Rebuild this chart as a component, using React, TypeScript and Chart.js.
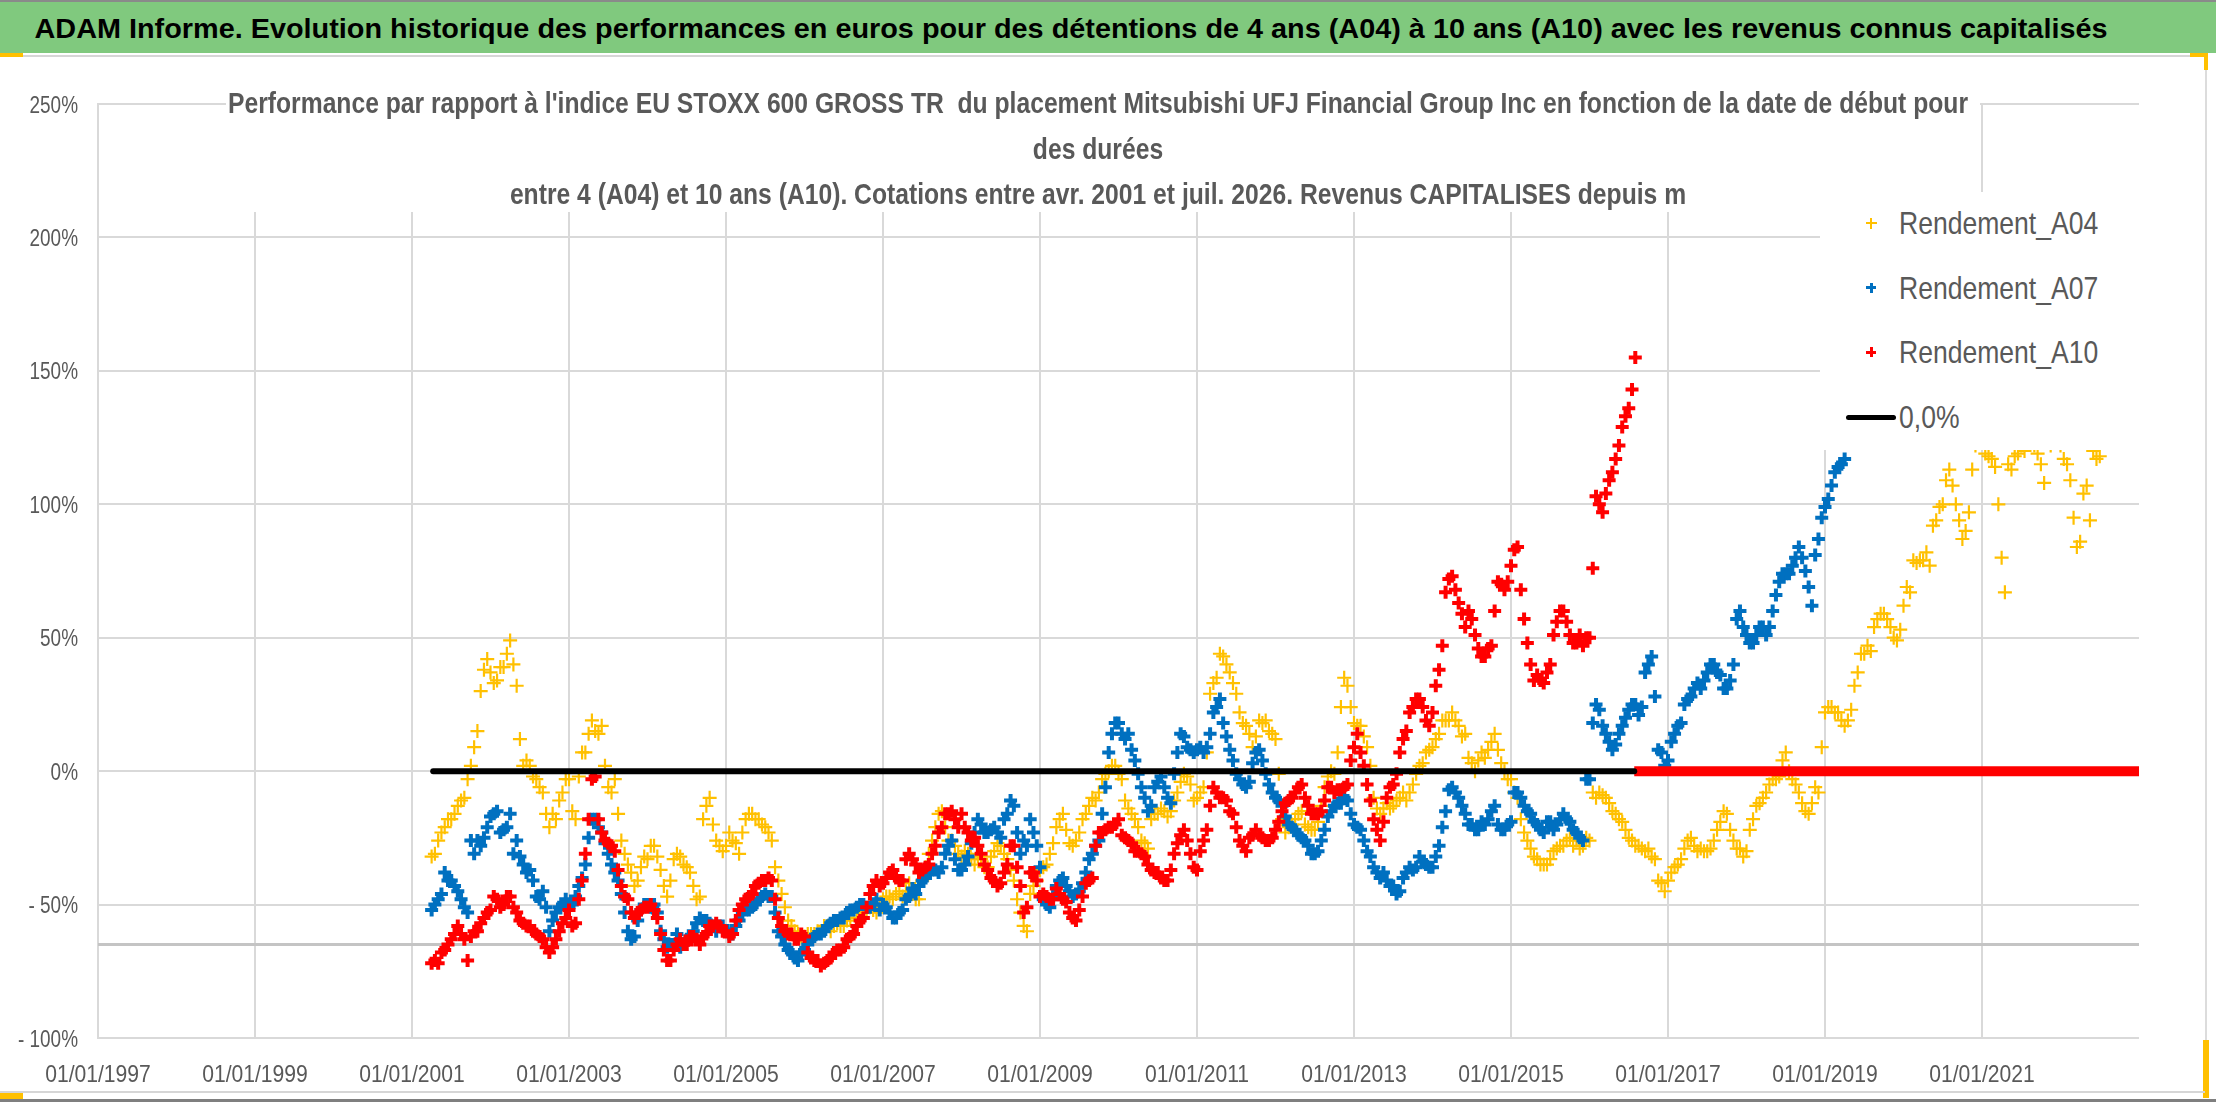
import { useEffect, useLayoutEffect, useRef } from "react"
import { Chart, registerables } from "chart.js"

Chart.register(...registerables)

const FONT = "'Liberation Sans', Arial, sans-serif"
const TEXT_GREY = "#595959"
const GRID = "#d9d9d9"

const YELLOW = "#ffc000"
const BLUE = "#0070c0"
const RED = "#ff0000"

// readings at the start of each month (first month = avr. 2001) and at mid-month
const firstMonth = 2001.25

const rendementA04 = [
  -32, -26, -21, -18, -13, -10, 2, 15, 38, 37, 34, 39,
  49, 32, 2, 2, -3, -8, -21, -18, -8, -3, -18, 7,
  14, 15, 17, -6, -3, -26, -35, -43, -36, -33, -28, -37,
  -47, -33, -32, -36, -43, -47, -13, -20, -28, -28, -26, -31,
  -18, -16, -18, -21,
  -26, -41, -51, -58, -61, -62, -61, -60, -58, -60, -57, -58,
  -55, -52, -53, -51, -53, -48, -47, -46, -47, -42, -48, -41,
  -31, -21, -15, -26, -28, -32, -31, -35, -33, -36, -30, -28,
  -33, -41, -53, -60, -43, -37, -35, -27, -18, -22, -28, -23,
  -16, -10, -8, -1, 2, -1,
  -11, -16, -21, -27, -18, -16, -15, -15, -8, -1, -5, -10,
  -6, 29, 35, 43, 37, 29, 18, 14, 13, 18, 15, 12,
  -18, -21, -18, -15, -21, -22, -13, -2, -1, 24, 32, 18,
  17, 9, -10, -16, -12, -13, -10, -11, -5, 2, 7, 9,
  14, 19, 22, 17, 14,
  3, 4, 5, 11, 8, 0, -3, -10, -23, -29, -33, -35,
  -33, -29, -28, -25, -26, -28, -26, -10, -9, -12, -16, -19,
  -25, -28, -29, -29, -33, -42, -41, -36, -33, -26, -28, -29,
  -30, -26, -19, -16, -26, -29, -30, -18, -12, -8, -3, -2,
  7, -3, -8, -15, -12, -8, 22, 24, 22, 17, 23, 37,
  44, 45, 57, 59, 54, 49, 62, 67, 78, 79, 77, 94,
  100, 113, 100, 87, 97, 122, 124, 118, 114, 80, 115, 118,
  122, 124, 122, 115, 123, 124, 122, 115, 95, 86, 107, 120, 118,
]
const rendementA04Mid = [
  -31, -23, -18, -16, -11, -3, 9, 30, 42, 33, 39, 44,
  40, 12, 4, -2, -6, -16, -16, -11, -3, -15, -2, 7,
  19, 14, 2, -8, -16, -31, -38, -41, -32, -28, -32, -43,
  -41, -31, -35, -38, -48, -18, -10, -26, -30, -23, -27, -23,
  -16, -18, -20, -23,
  -36, -46, -56, -60, -62, -61, -61, -60, -58, -58, -58, -56,
  -53, -53, -52, -52, -51, -47, -48, -45, -45, -46, -48, -36,
  -26, -16, -21, -26, -31, -30, -33, -32, -36, -32, -27, -31,
  -37, -48, -58, -46, -41, -36, -31, -21, -16, -27, -26, -18,
  -13, -11, -3, 0, 2, -3,
  -14, -18, -26, -29, -16, -14, -17, -11, -4, -2, -11, -8,
  7, 33, 44, 40, 33, 22, 17, 9, 19, 19, 14, -1,
  -23, -20, -16, -20, -22, -19, -6, 0, 7, 35, 24, 17,
  13, 2, -14, -14, -14, -11, -8, -8, -1, 3, 8, 12,
  19, 19, 19, 13, 5,
  0, 7, 8, 14, 3, -3, -8, -18, -26, -32, -35, -35,
  -30, -28, -26, -28, -29, -25, -8, -8, -10, -15, -18, -22,
  -26, -28, -30, -32, -41, -45, -38, -35, -29, -25, -30, -30,
  -29, -22, -15, -22, -29, -32, -22, -13, -10, -5, -3, 4,
  0, -5, -12, -16, -6, 9, 24, 22, 19, 19, 32, 44,
  47, 54, 59, 57, 50, 53, 69, 79, 79, 82, 92, 99,
  109, 107, 94, 90, 113, 124, 119, 117, 100, 67, 113, 119,
  120, 124, 119, 108, 122, 124, 117, 109, 84, 104, 94, 117,
]

const rendementA07 = [
  -52, -48, -38, -41, -45, -51, -26, -26, -25, -17, -15, -22,
  -16, -26, -35, -37, -47, -45, -60, -53, -50, -51, -47, -40,
  -25, -18, -23, -31, -38, -46, -60, -62, -52, -50, -50, -60,
  -66, -65, -66, -63, -60, -55, -56, -58, -58, -60, -61, -56,
  -52, -51, -48, -46,
  -47, -60, -65, -68, -71, -67, -63, -61, -60, -57, -56, -55,
  -52, -51, -50, -51, -48, -50, -53, -55, -52, -47, -46, -41,
  -38, -37, -36, -28, -33, -37, -32, -23, -20, -23, -21, -25,
  -16, -13, -31, -28, -23, -36, -50, -47, -41, -43, -47, -45,
  -38, -31, -26, -6, 14, 18,
  12, 8, -1, -10, -13, -4, -6, -12, 7, 13, 8, 8,
  7, 14, 24, 18, 8, -1, -5, -4, 7, 4, -5, -10,
  -13, -20, -22, -25, -28, -31, -26, -17, -13, -12, -11, -20,
  -22, -30, -36, -40, -41, -43, -45, -38, -37, -32, -35, -36,
  -28, -15, -6, -10, -16,
  -20, -22, -20, -15, -20, -22, -19, -8, -13, -16, -20, -23,
  -19, -20, -16, -19, -23, -26, -3, 25, 17, 11, 10, 17,
  23, 25, 24, 40, 28, 7, 4, 14, 18, 27, 31, 31,
  37, 40, 36, 31, 40, 60, 51, 48, 54, 51, 60, 71,
  74, 77, 84, 75, 62, 87, 99, 107, 114, 117,
]
const rendementA07Mid = [
  -50, -46, -41, -43, -48, -53, -31, -28, -21, -16, -23, -21,
  -31, -32, -38, -41, -48, -51, -56, -51, -48, -50, -43, -35,
  -18, -21, -27, -35, -41, -53, -63, -56, -50, -51, -53, -63,
  -65, -61, -65, -62, -57, -56, -57, -60, -58, -61, -58, -53,
  -52, -50, -47, -47,
  -53, -62, -67, -70, -68, -65, -62, -61, -58, -56, -55, -53,
  -52, -50, -51, -50, -52, -51, -55, -53, -48, -44, -43, -40,
  -37, -38, -31, -26, -37, -35, -27, -18, -23, -22, -23, -18,
  -11, -23, -26, -18, -28, -48, -51, -43, -40, -45, -46, -42,
  -33, -28, -16, 7, 18, 14,
  14, 4, -6, -15, -6, -2, -10, -1, 14, 9, 7, 9,
  9, 22, 27, 13, 4, -3, -6, 3, 8, -1, -8, -11,
  -17, -21, -24, -26, -31, -30, -22, -15, -12, -10, -16, -21,
  -26, -32, -38, -38, -43, -46, -40, -36, -36, -34, -36, -32,
  -21, -7, -8, -13, -20,
  -22, -19, -18, -13, -22, -20, -8, -10, -15, -19, -22, -19,
  -22, -18, -18, -22, -25, -3, 18, 23, 14, 8, 14, 20,
  25, 21, 37, 43, 8, 2, 11, 17, 25, 28, 33, 34,
  40, 37, 31, 34, 57, 54, 48, 51, 54, 54, 66, 74,
  74, 80, 80, 69, 81, 95, 102, 112, 115,
]

const rendementA10 = [
  -72, -72, -67, -63, -58, -63, -62, -60, -55, -52, -48, -50,
  -47, -53, -57, -58, -61, -63, -68, -63, -57, -52, -57, -41,
  -18, -2, -23, -27, -30, -43, -48, -55, -52, -51, -52, -61,
  -71, -67, -63, -65, -62, -65, -61, -58, -58, -60, -61, -52,
  -48, -46, -42, -41,
  -41, -55, -60, -61, -63, -62, -70, -71, -72, -70, -67, -66,
  -62, -58, -55, -46, -41, -42, -38, -40, -41, -31, -35, -37,
  -35, -28, -21, -16, -18, -16, -23, -25, -31, -37, -41, -42,
  -35, -28, -43, -51, -38, -47, -47, -48, -46, -49, -55, -52,
  -42, -40, -23, -22, -21, -18,
  -25, -27, -30, -32, -37, -38, -41, -37, -27, -22, -31, -37,
  -26, -13, -8, -10, -15, -21, -28, -25, -22, -25, -26, -22,
  -15, -11, -8, -5, -13, -16, -15, -6, -8, -7, -5, 9,
  7, -5, -18, -26, -10, -5, 7, 15, 24, 27, 19, 22,
  38, 67, 73, 63, 54,
  57, 46, 43, 47, 71, 68, 77, 84, 57, 40, 36, 33,
  40, 56, 60, 51, 48, 47, 50, 103, 97, 109, 117, 129, 136, 155,
]
const rendementA10Mid = [
  -71, -68, -65, -61, -61, -71, -60, -57, -53, -47, -51, -47,
  -51, -56, -58, -60, -62, -66, -66, -60, -55, -58, -48, -31,
  -3, -18, -26, -28, -37, -47, -53, -53, -51, -50, -55, -67,
  -71, -65, -65, -62, -63, -62, -58, -57, -60, -62, -56, -50,
  -47, -43, -41, -40,
  -48, -58, -61, -63, -61, -68, -71, -73, -71, -68, -67, -63,
  -61, -56, -51, -43, -43, -40, -37, -41, -33, -33, -38, -36,
  -31, -23, -16, -15, -21, -21, -26, -28, -35, -40, -43, -38,
  -28, -36, -53, -38, -41, -46, -48, -44, -48, -53, -56, -47,
  -41, -28, -23, -21, -20, -24,
  -26, -30, -31, -35, -38, -40, -41, -31, -24, -26, -36, -30,
  -22, -6, -10, -11, -16, -26, -30, -24, -24, -26, -25, -19,
  -12, -10, -6, -10, -16, -16, -11, -6, -7, -6, 4, 14,
  2, -11, -22, -19, -6, -1, 12, 22, 27, 24, 17, 32,
  47, 72, 68, 59, 60,
  51, 43, 46, 60, 70, 71, 83, 68, 48, 34, 34, 37,
  51, 60, 56, 48, 51, 50, 76, 100, 104, 112, 122, 133, 143,
]

// "0,0%" reference line and the zero values left once A10 has no more data
const zeroLineSpan = [2001.27, 2016.57]
const a10ZeroSpan = [2016.57, 2023.1]
const floorLevel = -65

const xMin = 1997
const xMax = 2023
const xTickYears = [1997, 1999, 2001, 2003, 2005, 2007, 2009, 2011, 2013, 2015, 2017, 2019, 2021]
const yMin = -100
const yMax = 250
const yStep = 50

const headerText =
  "ADAM Informe. Evolution historique des performances en euros pour des détentions de 4 ans (A04) à 10 ans (A10) avec les revenus connus capitalisés"
const titleLines = [
  "Performance par rapport à l'indice EU STOXX 600 GROSS TR  du placement Mitsubishi UFJ Financial Group Inc en fonction de la date de début pour",
  "des durées",
  "entre 4 (A04) et 10 ans (A10). Cotations entre avr. 2001 et juil. 2026. Revenus CAPITALISES depuis m",
]

const legendItems = [
  { label: "Rendement_A04", color: YELLOW, thin: true },
  { label: "Rendement_A07", color: BLUE, thin: false },
  { label: "Rendement_A10", color: RED, thin: false },
]

const yTickLabel = (v: number) => (v < 0 ? "- " + Math.abs(v) + "%" : v + "%")
const xTickLabel = (v: number) => "01/01/" + v

function readings(start: number[], mid: number[]) {
  return [
    ...start.map((v, i) => ({ x: firstMonth + i / 12, y: v })),
    ...mid.map((v, i) => ({ x: firstMonth + (i + 0.5) / 12, y: v })),
  ]
}

function flat(span: number[], level: number) {
  return span.map((x) => ({ x, y: level }))
}

// the screenshot's text is narrow (squeezed Calibri): draw the axis labels horizontally squeezed
const squeezedTicks = {
  id: "squeezedTicks",
  afterDraw(chart: Chart) {
    const ctx = chart.ctx
    const xs = chart.scales.x
    const ys = chart.scales.y
    ctx.save()
    ctx.fillStyle = TEXT_GREY
    ctx.font = "24px " + FONT
    ctx.textBaseline = "alphabetic"
    ctx.textAlign = "right"
    for (const t of ys.ticks) {
      const py = ys.getPixelForValue(t.value)
      ctx.save()
      ctx.translate(ys.right - 20, py + 8.6)
      ctx.scale(0.79, 1)
      ctx.fillText(yTickLabel(t.value), 0, 0)
      ctx.restore()
    }
    ctx.textAlign = "center"
    for (const t of xs.ticks) {
      const px = xs.getPixelForValue(t.value)
      ctx.save()
      ctx.translate(px, xs.top + 44)
      ctx.scale(0.88, 1)
      ctx.fillText(xTickLabel(t.value), 0, 0)
      ctx.restore()
    }
    ctx.restore()
  },
}

function Cross({ color, thin }: { color: string; thin: boolean }) {
  const size = thin ? 11 : 10
  const w = thin ? 1.5 : 3
  return (
    <div style={{ position: "absolute", left: 51 - size / 2, top: -size / 2, width: size, height: size }}>
      <div style={{ position: "absolute", left: (size - w) / 2, top: 0, width: w, height: size, background: color }} />
      <div style={{ position: "absolute", top: (size - w) / 2, left: 0, height: w, width: size, background: color }} />
    </div>
  )
}

function box(left: number, top: number, width: number, height: number, background: string) {
  return <div style={{ position: "absolute", left, top, width, height, background }} />
}

// scales a block horizontally so that its first line gets the wanted width
function Squeezed({
  targetWidth,
  centerX,
  children,
  style,
}: {
  targetWidth: number
  centerX: number
  children: React.ReactNode
  style: React.CSSProperties
}) {
  const outer = useRef<HTMLDivElement>(null)
  const probe = useRef<HTMLSpanElement>(null)
  useLayoutEffect(() => {
    if (!outer.current || !probe.current) return
    const w = probe.current.getBoundingClientRect().width
    if (w > 0) outer.current.style.transform = `scaleX(${targetWidth / w})`
  }, [targetWidth])
  return (
    <div
      ref={outer}
      style={{
        position: "absolute",
        left: centerX - 1500,
        width: 3000,
        textAlign: "center",
        whiteSpace: "pre",
        transformOrigin: "50% 50%",
        ...style,
      }}
    >
      {Array.isArray(children)
        ? children.map((c, i) => (
            <div key={i}>
              <span ref={i === 0 ? probe : undefined}>{c}</span>
            </div>
          ))
        : <span ref={probe}>{children}</span>}
    </div>
  )
}

const legendText: React.CSSProperties = {
  position: "absolute",
  left: 79,
  top: -22,
  lineHeight: "44px",
  fontSize: 30.5,
  color: TEXT_GREY,
  whiteSpace: "nowrap",
  transform: "scaleX(0.87)",
  transformOrigin: "0 50%",
}

export default function App() {
  const chartRef = useRef<HTMLCanvasElement>(null)
  const chartInstance = useRef<Chart | null>(null)

  useEffect(() => {
    if (!chartRef.current) return
    if (chartInstance.current) chartInstance.current.destroy()
    const ctx = chartRef.current.getContext("2d")
    if (!ctx) return

    chartInstance.current = new Chart(ctx, {
      type: "scatter",
      data: {
        datasets: [
          {
            type: "line",
            label: "0,0%",
            data: flat(zeroLineSpan, 0),
            borderColor: "#000000",
            borderWidth: 6,
            borderCapStyle: "round",
            pointRadius: 0,
          },
          {
            type: "line",
            label: "Rendement_A10 (0)",
            data: flat(a10ZeroSpan, 0),
            borderColor: RED,
            borderWidth: 10,
            pointRadius: 0,
          },
          {
            label: "Rendement_A10",
            data: readings(rendementA10, rendementA10Mid),
            pointStyle: "cross",
            pointRadius: 6.5,
            pointBorderWidth: 4,
            borderColor: RED,
            backgroundColor: RED,
          },
          {
            label: "Rendement_A07",
            data: readings(rendementA07, rendementA07Mid),
            pointStyle: "cross",
            pointRadius: 6.5,
            pointBorderWidth: 4,
            borderColor: BLUE,
            backgroundColor: BLUE,
          },
          {
            label: "Rendement_A04",
            data: readings(rendementA04, rendementA04Mid),
            pointStyle: "cross",
            pointRadius: 7,
            pointBorderWidth: 2.2,
            borderColor: YELLOW,
            backgroundColor: YELLOW,
          },
          {
            type: "line",
            label: "floor",
            data: flat([xMin, xMax], floorLevel),
            borderColor: "#c4c4c4",
            borderWidth: 3,
            pointRadius: 0,
          },
        ],
      },
      options: {
        animation: false,
        responsive: true,
        maintainAspectRatio: false,
        events: [],
        layout: { padding: { top: 104, right: 77, bottom: 0, left: 0 } },
        plugins: {
          legend: { display: false },
          tooltip: { enabled: false },
        },
        scales: {
          x: {
            type: "linear",
            min: xMin,
            max: xMax,
            afterBuildTicks: (scale) => {
              scale.ticks = xTickYears.map((value) => ({ value }))
            },
            afterFit: (scale) => {
              scale.height = 64
            },
            grid: { color: GRID, lineWidth: 2, drawTicks: false },
            border: { display: false },
            ticks: { display: false },
          },
          y: {
            min: yMin,
            max: yMax,
            afterFit: (scale) => {
              scale.width = 98
            },
            grid: { color: GRID, lineWidth: 2, drawTicks: false },
            border: { display: true, color: GRID, width: 2 },
            ticks: { stepSize: yStep, display: false },
          },
        },
      },
      plugins: [squeezedTicks],
    })

    return () => {
      if (chartInstance.current) {
        chartInstance.current.destroy()
        chartInstance.current = null
      }
    }
  }, [])

  return (
    <div style={{ position: "absolute", left: 0, top: 0, width: 2216, height: 1102, background: "#ffffff", overflow: "hidden", fontFamily: FONT }}>
      <div style={{ position: "absolute", left: 0, top: 0, width: 2216, height: 1102 }}>
        <canvas ref={chartRef} />
      </div>

      {/* green banner */}
      <div
        style={{
          position: "absolute",
          left: 0,
          top: 0,
          width: 2216,
          height: 53,
          background: "#80c97e",
          borderTop: "2px solid #8a8a8a",
          boxSizing: "border-box",
          overflow: "hidden",
        }}
      >
        <Squeezed targetWidth={2073} centerX={1071} style={{ top: 1, lineHeight: "53px", fontSize: 27, fontWeight: "bold", color: "#000000" }}>
          {headerText}
        </Squeezed>
      </div>
      {box(0, 55, 2205, 2, "#d6d6d6")}
      {box(0, 53, 23, 4, YELLOW)}
      {box(2190, 53, 18, 4, YELLOW)}
      {box(2204, 53, 4, 17, YELLOW)}
      {box(2205, 70, 2, 970, "#dcdcdc")}
      {box(2203, 1040, 6, 58, YELLOW)}
      {box(0, 1091, 2205, 2, "#d6d6d6")}
      {box(0, 1099, 2216, 3, "#7f7f7f")}
      {box(0, 1093, 23, 6, YELLOW)}

      {/* chart title on its white box */}
      {box(226, 80, 1754, 132, "#ffffff")}
      <Squeezed
        targetWidth={1740}
        centerX={1098}
        style={{ top: 80, color: TEXT_GREY, fontWeight: "bold", fontSize: 30, lineHeight: "45.5px" }}
      >
        {titleLines}
      </Squeezed>

      {/* legend */}
      <div style={{ position: "absolute", left: 1820, top: 192, width: 319, height: 258, background: "#ffffff" }}>
        {legendItems.map((item, i) => (
          <div key={item.label} style={{ position: "absolute", left: 0, top: 31 + i * 64.5, width: 319, height: 0 }}>
            <Cross color={item.color} thin={item.thin} />
            <div style={legendText}>{item.label}</div>
          </div>
        ))}
        <div style={{ position: "absolute", left: 0, top: 225, width: 319, height: 0 }}>
          <div style={{ position: "absolute", left: 26, top: -2.5, width: 50, height: 5, background: "#000000", borderRadius: 2.5 }} />
          <div style={legendText}>0,0%</div>
        </div>
      </div>
    </div>
  )
}
